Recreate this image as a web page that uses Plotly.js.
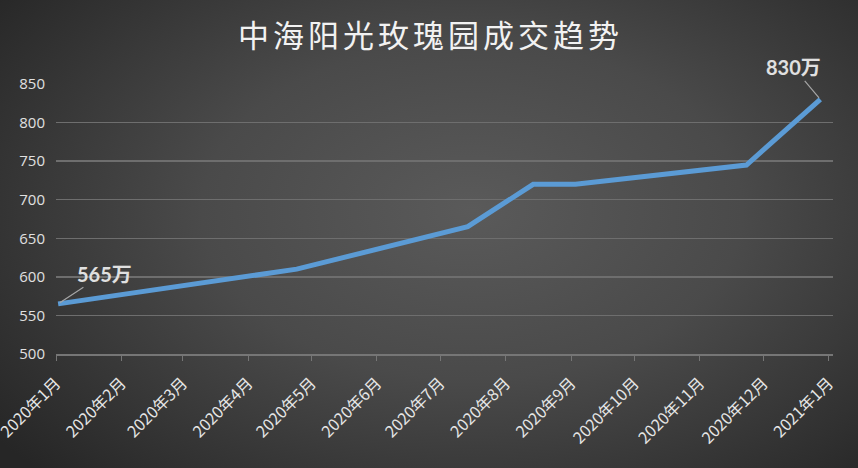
<!DOCTYPE html>
<html><head><meta charset="utf-8">
<script src="https://cdn.plot.ly/plotly-3.0.1.min.js"></script>
<style>
html,body{margin:0;padding:0;}
body{width:858px;height:468px;overflow:hidden;
background: radial-gradient(ellipse 70% 80% at 55% 45%, #5a5a5a 0%, #4a4a4a 45%, #333333 80%, #262626 100%);}
#chart{width:858px;height:468px}
.gtitle{letter-spacing:4px}
</style></head><body><div id="chart"></div>
<script>
// Data
const dates = ['2020-01-02','2020-04-24','2020-07-14','2020-08-14','2020-09-03','2020-11-23','2020-12-28'];
const prices = [565, 610, 665, 720, 720, 745, 830];
const tickDates = ['2020-01-01','2020-02-01','2020-03-01','2020-04-01','2020-05-01','2020-06-01','2020-07-01','2020-08-01','2020-09-01','2020-10-01','2020-11-01','2020-12-01','2021-01-01'];
const tickLabels = ['2020年1月','2020年2月','2020年3月','2020年4月','2020年5月','2020年6月','2020年7月','2020年8月','2020年9月','2020年10月','2020年11月','2020年12月','2021年1月'];
const yTicks = [500, 550, 600, 650, 700, 750, 800, 850];
const labelledPoints = [0, 6];
const labelUnit = '万';
const titleText = '中海阳光玫瑰园成交趋势';

const labelOffsets = {0: [46, -30], 6: [-27, -32]};

const annotations = labelledPoints.map(i => ({
  x: dates[i], y: prices[i], xref: 'x', yref: 'y',
  text: '<b>' + prices[i] + labelUnit + '</b>',
  showarrow: true, arrowhead: 0, arrowwidth: 1.2, arrowcolor: '#a6a6a6',
  ax: labelOffsets[i][0], ay: labelOffsets[i][1], standoff: 2,
  font: {family: 'Lato, "Noto Sans CJK SC", sans-serif', size: 20, color: '#e0e0e0'}
}));

const trace = {
  x: dates, y: prices, type: 'scatter', mode: 'lines',
  line: {color: '#5b9bd5', width: 5},
  hoverinfo: 'skip'
};

const layout = {
  width: 858, height: 468,
  paper_bgcolor: 'rgba(0,0,0,0)', plot_bgcolor: 'rgba(0,0,0,0)',
  margin: {l: 56, r: 25, t: 84, b: 114},
  showlegend: false,
  title: {
    text: titleText, x: 0.482, xanchor: 'center', xref: 'paper',
    y: 1 - 36/468, yanchor: 'middle', yref: 'container',
    font: {family: '"Noto Sans CJK SC", sans-serif', size: 31, color: '#f2f2f2'}
  },
  xaxis: {
    type: 'date', range: ['2020-01-01', '2021-01-03'],
    tickmode: 'array', tickvals: tickDates, ticktext: tickLabels,
    tickangle: -45, ticks: 'outside', ticklen: 5, tickcolor: '#767676', tickwidth: 1,
    ticklabelstandoff: 7, ticklabeloverflow: 'allow',
    showline: true, linecolor: '#767676', linewidth: 1.5,
    showgrid: false, zeroline: false,
    tickfont: {family: '"Noto Sans CJK SC", sans-serif', size: 16, color: '#e6e6e6'},
    automargin: false, fixedrange: true
  },
  yaxis: {
    range: [500, 850], tickmode: 'array', tickvals: yTicks,
    showgrid: true, gridcolor: '#6e6e6e', gridwidth: 1.5,
    zeroline: false, showline: false, ticks: '',
    ticklabelstandoff: 10,
    tickfont: {family: '"Open Sans", sans-serif', size: 15, color: '#e0e0e0'},
    automargin: false, fixedrange: true
  },
  annotations: annotations
};

Plotly.newPlot('chart', [trace], layout, {displayModeBar: false, staticPlot: true});
</script></body></html>
